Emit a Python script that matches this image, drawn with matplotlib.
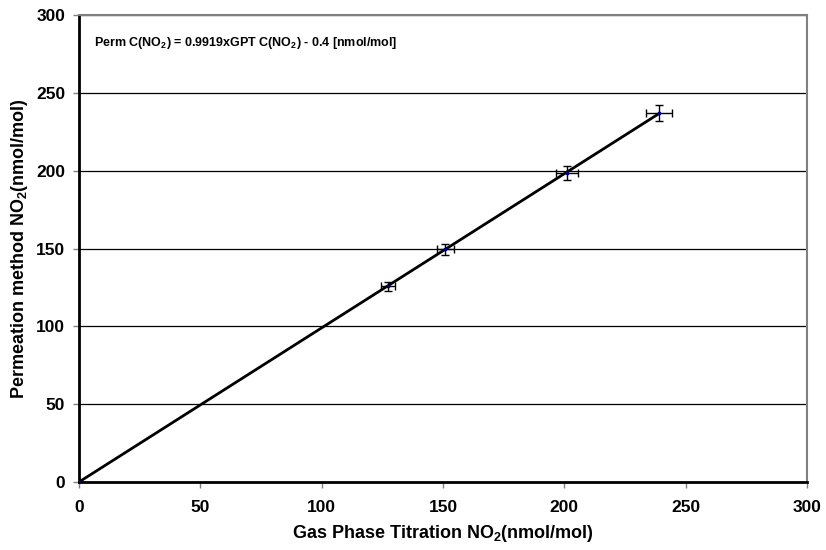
import numpy as np
import matplotlib.pyplot as plt

plt.rcParams["font.family"] = ["Liberation Sans", "DejaVu Sans"]
plt.rcParams["font.weight"] = "bold"
plt.rcParams["mathtext.fontset"] = "custom"
plt.rcParams["mathtext.bf"] = "Liberation Sans:bold"
plt.rcParams["mathtext.rm"] = "Liberation Sans:bold"

# GPT vs permeation values with uncertainties (nmol/mol)
gpt = [0.0, 127.5, 151.0, 201.0, 239.0]
perm = [0.0, 125.8, 149.5, 198.5, 237.0]
gpt_err = [0.0, 2.9, 3.6, 4.5, 5.3]
perm_err = [0.0, 2.9, 3.6, 4.5, 5.3]

slope = 0.9919
intercept = -0.4

fig = plt.figure(figsize=(8.26, 5.5), dpi=100)
ax = fig.add_axes([0.0956, 0.1236, 0.8814, 0.8491])

ax.set_xlim(0, 300)
ax.set_ylim(0, 300)
ax.set_xticks(range(0, 301, 50))
ax.set_yticks(range(0, 301, 50))
ax.yaxis.grid(True, color="black", linewidth=0.9)
ax.set_axisbelow(True)

# trend line from origin to the last point
xs = np.array([0.0, max(gpt)])
ax.plot(xs, np.maximum(slope * xs + intercept, 0), color="black", linewidth=2, zorder=3)

ax.errorbar(gpt, perm, xerr=gpt_err, yerr=perm_err, fmt="s", markersize=1.8,
            color="#000080", ecolor="black", elinewidth=1, capsize=3,
            capthick=1, zorder=4)

for side in ["top", "right"]:
    ax.spines[side].set_color("#808080")
    ax.spines[side].set_linewidth(1.5)
for side in ["left", "bottom"]:
    ax.spines[side].set_color("black")
    ax.spines[side].set_linewidth(2)

ax.tick_params(axis="both", direction="out", length=4, width=1, color="#808080",
               labelsize=12.5)
ax.tick_params(axis="x", pad=9)
ax.tick_params(axis="y", pad=6)
for lab in ax.get_xticklabels() + ax.get_yticklabels():
    lab.set_fontweight("bold")

ax.set_xlabel("Gas Phase Titration NO$_\\mathbf{2}$(nmol/mol)", fontsize=13, fontweight="bold", labelpad=6)
ax.set_ylabel("Permeation method NO$_\\mathbf{2}$(nmol/mol)", fontsize=13, fontweight="bold", labelpad=4)

ax.text(6, 282, "Perm C(NO$_\\mathbf{2}$) = 0.9919xGPT C(NO$_\\mathbf{2}$) - 0.4 [nmol/mol]",
        fontsize=9, fontweight="bold", va="center")

fig.savefig("out.png", dpi=100)
